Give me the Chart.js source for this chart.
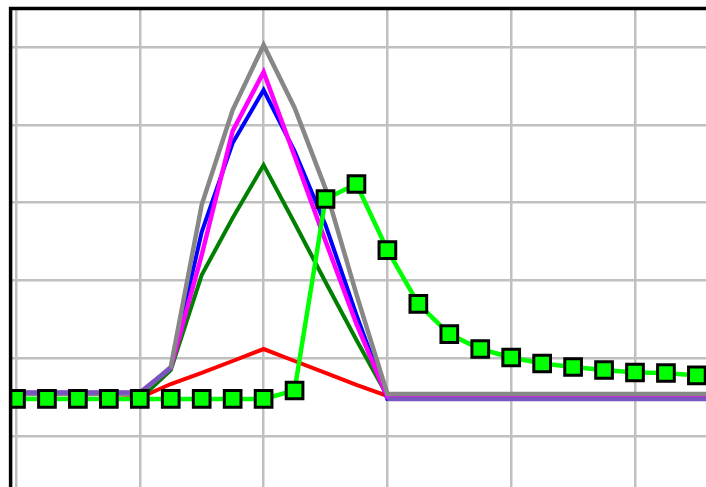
<!DOCTYPE html>
<html>
<head>
<meta charset="utf-8">
<script src="https://cdn.jsdelivr.net/npm/chart.js@4.4.1/dist/chart.umd.min.js"></script>
<style>
  html, body { margin: 0; padding: 0; background: #ffffff; }
  #c { display: block; }
</style>
</head>
<body>
<canvas id="c" width="706" height="487"></canvas>
<script>
// ---- data ----
const categories = [0,1,2,3,4,5,6,7,8,9,10,11,12,13,14,15,16,17,18,19,20,21,22,23];
const xGridTicks = [0,4,8,12,16,20];
const yGridTicks = [0,10,20,30,40,50];

const limeValues    = [4.76,4.76,4.76,4.76,4.76,4.76,4.76,4.76,4.76,5.85,30.46,32.39,23.9,16.97,13.1,11.18,10.09,9.32,8.87,8.48,8.16,8.1,7.78,7.6];
const purpleValues  = [5.59,5.59,5.59,5.59,5.59,8.74,null,null,null,null,null,null,4.76,4.76,4.76,4.76,4.76,4.76,4.76,4.76,4.76,4.76,4.76,4.76];
const grayValues    = [5.4,5.4,5.4,5.4,5.4,8.87,29.7,41.9,50.26,42.2,31.8,18.2,5.4,5.4,5.4,5.4,5.4,5.4,5.4,5.4,5.4,5.4,5.4,5.4];
const magentaValues = [5.53,5.53,5.53,5.53,5.53,8.74,23.26,39.2,46.79,35.99,25.06,14.4,5.01,5.01,5.01,5.01,5.01,5.01,5.01,5.01,5.01,5.01,5.01,5.01];
const blueValues    = [5.53,5.53,5.53,5.53,5.53,8.74,26.22,37.66,44.47,36.63,27.12,15.55,4.76,4.76,4.76,4.76,4.76,4.76,4.76,4.76,4.76,4.76,4.76,4.76];
const darkGreenValues = [4.76,4.76,4.76,4.76,4.76,8.48,20.69,28.02,34.83,27.38,19.79,12.34,5.14,5.14,5.14,5.14,5.14,5.14,5.14,5.14,5.14,5.14,5.14,5.14];
const redValues     = [4.76,4.76,4.76,4.76,4.9,6.68,8.10,9.64,11.18,9.64,8.10,6.56,5.14,5.14,5.14,5.14,5.14,5.14,5.14,5.14,5.14,5.14,5.14,5.14];

function pts(vals) { return categories.map((c, i) => ({ x: c, y: vals[i] })); }

function lineSet(vals, color, width, order) {
  return {
    data: pts(vals), borderColor: color, backgroundColor: color,
    borderWidth: width, pointRadius: 0, tension: 0, fill: false,
    order: order, clip: 0, spanGaps: false
  };
}

const datasets = [
  {
    data: pts(limeValues), borderColor: '#00ff00', backgroundColor: '#00ff00',
    borderWidth: 4.5, tension: 0, fill: false, order: 0, clip: 0,
    pointStyle: 'rect', pointRadius: 11.8, pointBorderColor: '#000000',
    pointBackgroundColor: '#00ff00', pointBorderWidth: 3
  },
  lineSet(purpleValues, '#7a55c0', 4.5, 1),
  lineSet(grayValues, '#878787', 4.5, 2),
  lineSet(magentaValues, '#ff00ff', 4.5, 3),
  lineSet(blueValues, '#0000ff', 4, 4),
  lineSet(darkGreenValues, '#008000', 4, 5),
  lineSet(redValues, '#ff0000', 4, 6)
];

const framePlugin = {
  id: 'frame',
  afterDraw(chart) {
    const { ctx, chartArea: a } = chart;
    ctx.save();
    ctx.strokeStyle = '#000000';
    ctx.lineWidth = 3.5;
    ctx.beginPath();
    ctx.moveTo(a.left - 0.4, chart.height + 5);
    ctx.lineTo(a.left - 0.4, a.top - 0.4);
    ctx.lineTo(chart.width + 5, a.top - 0.4);
    ctx.stroke();
    ctx.restore();
  }
};

new Chart(document.getElementById('c'), {
  type: 'line',
  data: { datasets },
  plugins: [framePlugin],
  options: {
    responsive: false,
    animation: false,
    devicePixelRatio: 1,
    layout: { autoPadding: false, padding: { left: 11, top: 9, right: 0, bottom: 0 } },
    plugins: { legend: { display: false }, tooltip: { enabled: false }, title: { display: false } },
    scales: {
      x: {
        type: 'linear', min: -0.1616, max: 22.294,
        afterBuildTicks: s => { s.ticks = xGridTicks.map(v => ({ value: v })); },
        afterFit: s => { s.height = 0; },
        ticks: { display: false },
        grid: { color: '#c0c0c0', lineWidth: 2.5, drawTicks: false },
        border: { display: false }
      },
      y: {
        type: 'linear', min: -6.555, max: 54.88,
        afterBuildTicks: s => { s.ticks = yGridTicks.map(v => ({ value: v })); },
        afterFit: s => { s.width = 0; },
        ticks: { display: false },
        grid: { color: '#c0c0c0', lineWidth: 2.5, drawTicks: false },
        border: { display: false }
      }
    }
  }
});
</script>
</body>
</html>
